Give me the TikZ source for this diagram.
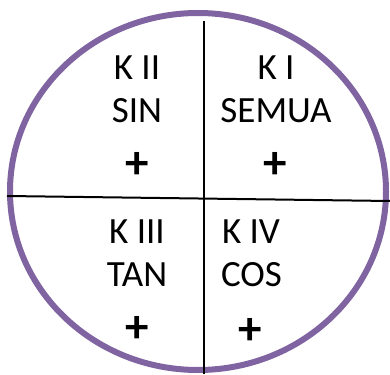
\documentclass[tikz,border=0pt]{standalone}
\usepackage{fontspec}
\setmainfont{Carlito}
\definecolor{ringpurple}{HTML}{8064A2}
\tikzset{
  lbl/.style={anchor=base, inner sep=0pt, font=\fontsize{37}{44}\selectfont},
  plus/.style={anchor=center, inner sep=0pt, font=\fontsize{47}{50}\selectfont\bfseries},
  axis/.style={draw=black, line width=2pt},
  ring/.style={draw=ringpurple, line width=6pt}
}
\begin{document}
\begin{tikzpicture}[x=1pt,y=-1pt]
\useasboundingbox (0,0) rectangle (390,374);
\draw[ring] (198,191.5) ellipse [x radius=188, y radius=178.5];
\coordinate (vtop) at (204,21);
\coordinate (vbot) at (204,374);
\coordinate (hl) at (7,196);
\coordinate (hr) at (390,201);
\draw[axis] (vtop) -- (vbot);
\draw[axis] (hl) -- (hr);
% quadrant II
\node[lbl] (k2) at (137,80) {K II};
\node[lbl] (sin) at (137,123) {SIN};
\node[plus] (p2) at (137,165) {+};
% quadrant I
\node[lbl] (k1) at (276,80) {K I};
\node[lbl] (semua) at (276,123) {SEMUA};
\node[plus] (p1) at (275,165) {+};
% quadrant III
\node[lbl] (k3) at (137,243) {K III};
\node[lbl] (tan) at (137,286) {TAN};
\node[plus] (p3) at (137,329) {+};
% quadrant IV
\node[lbl] (k4) at (251,243) {K IV};
\node[lbl] (cos) at (251.5,286) {COS};
\node[plus] (p4) at (250,331) {+};
\end{tikzpicture}
\end{document}
